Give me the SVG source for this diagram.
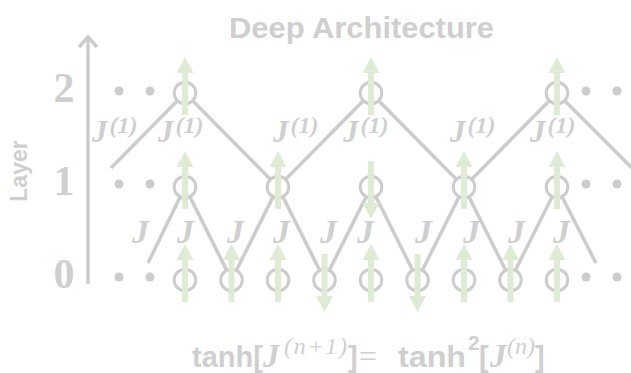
<svg xmlns="http://www.w3.org/2000/svg" xmlns:xlink="http://www.w3.org/1999/xlink" width="631" height="373" viewBox="0 0 631 373">
<style>
.ln{fill:none;stroke:#cccccc;stroke-width:3.5;stroke-linejoin:miter}
.nd{fill:#ffffff;stroke:#cccccc;stroke-width:3}
.dot{fill:#cccccc}
.sp{fill:#dfebd5}
.sans{font-family:"Liberation Sans",Arial,sans-serif;font-weight:bold;fill:#cfcfcf}
.num{font-family:"Liberation Serif","Times New Roman",serif;font-weight:bold;fill:#cfcfcf;font-size:42px;text-anchor:middle}
.jj{font-family:"Liberation Serif","Times New Roman",serif;font-weight:bold;font-style:italic;fill:#cfcfcf}
.mi{font-family:"Liberation Serif","Times New Roman",serif;font-style:italic;fill:#cfcfcf}
.rm{font-family:"Liberation Serif","Times New Roman",serif;fill:#cfcfcf}
</style>
<defs>
<path id="up" d="M-3,22 L-3,-20 L-8.5,-20 L0,-36 L8.5,-20 L3,-20 L3,22 Z"/>
</defs>
<text class="sans" x="229" y="38" font-size="30" textLength="265" lengthAdjust="spacingAndGlyphs">Deep Architecture</text>
<g id="axis">
<line class="ln" x1="88" y1="38" x2="88" y2="284"/>
<polyline class="ln" points="79,47 88,37 97,47"/>
<text class="sans" font-size="23" transform="translate(27,171) rotate(-90)" text-anchor="middle">Layer</text>
<text class="num" x="64" y="102">2</text>
<text class="num" x="64" y="195">1</text>
<text class="num" x="64" y="288">0</text>
</g>
<g id="dots">
<circle class="dot" cx="119" cy="91" r="4.5"/><circle class="dot" cx="150" cy="91" r="4.5"/>
<circle class="dot" cx="119" cy="184" r="4.5"/><circle class="dot" cx="150" cy="184" r="4.5"/>
<circle class="dot" cx="119" cy="277" r="4.5"/><circle class="dot" cx="150" cy="277" r="4.5"/>
<circle class="dot" cx="586" cy="91" r="4.5"/><circle class="dot" cx="617" cy="91" r="4.5"/>
<circle class="dot" cx="586" cy="184" r="4.5"/><circle class="dot" cx="617" cy="184" r="4.5"/>
<circle class="dot" cx="586" cy="277" r="4.5"/><circle class="dot" cx="617" cy="277" r="4.5"/>
</g>
<g id="connectors">
<polyline class="ln" points="111,168 185,93 278,187 371,93 464,187 557,93 633,169"/>
<polyline class="ln" points="148,263 185,187 231.5,280 278,187 324.5,280 371,187 417.5,280 464,187 510.5,280 557,187 596,263"/>
</g>
<g id="labels">
<text class="jj" x="92" y="142" font-size="31">J<tspan font-size="24" dx="2" dy="-9">(1)</tspan></text>
<text class="jj" x="158" y="142" font-size="31">J<tspan font-size="24" dx="2" dy="-9">(1)</tspan></text>
<text class="jj" x="273" y="142" font-size="31">J<tspan font-size="24" dx="2" dy="-9">(1)</tspan></text>
<text class="jj" x="343" y="142" font-size="31">J<tspan font-size="24" dx="2" dy="-9">(1)</tspan></text>
<text class="jj" x="450" y="142" font-size="31">J<tspan font-size="24" dx="2" dy="-9">(1)</tspan></text>
<text class="jj" x="530" y="142" font-size="31">J<tspan font-size="24" dx="2" dy="-9">(1)</tspan></text>
<text class="jj" x="132" y="243" font-size="34">J</text>
<text class="jj" x="177" y="243" font-size="34">J</text>
<text class="jj" x="227" y="243" font-size="34">J</text>
<text class="jj" x="273" y="243" font-size="34">J</text>
<text class="jj" x="320" y="243" font-size="34">J</text>
<text class="jj" x="357" y="243" font-size="34">J</text>
<text class="jj" x="415" y="243" font-size="34">J</text>
<text class="jj" x="463" y="243" font-size="34">J</text>
<text class="jj" x="508" y="243" font-size="34">J</text>
<text class="jj" x="553" y="243" font-size="34">J</text>
</g>
<g id="layer2">
<circle class="nd" cx="185" cy="93" r="10.8"/><circle class="nd" cx="371" cy="93" r="10.8"/><circle class="nd" cx="557" cy="93" r="10.8"/>
</g>
<g id="layer1">
<circle class="nd" cx="185" cy="187" r="10.8"/><circle class="nd" cx="278" cy="187" r="10.8"/><circle class="nd" cx="371" cy="187" r="10.8"/><circle class="nd" cx="464" cy="187" r="10.8"/><circle class="nd" cx="557" cy="187" r="10.8"/>
</g>
<g id="layer0">
<circle class="nd" cx="185" cy="280" r="10.8"/><circle class="nd" cx="231.5" cy="280" r="10.8"/><circle class="nd" cx="278" cy="280" r="10.8"/><circle class="nd" cx="324.5" cy="280" r="10.8"/><circle class="nd" cx="371" cy="280" r="10.8"/><circle class="nd" cx="417.5" cy="280" r="10.8"/><circle class="nd" cx="464" cy="280" r="10.8"/><circle class="nd" cx="510.5" cy="280" r="10.8"/><circle class="nd" cx="557" cy="280" r="10.8"/>
</g>
<g id="spins">
<use class="sp" xlink:href="#up" transform="translate(185,93)"/>
<use class="sp" xlink:href="#up" transform="translate(371,93)"/>
<use class="sp" xlink:href="#up" transform="translate(557,93)"/>
<use class="sp" xlink:href="#up" transform="translate(185,187)"/>
<use class="sp" xlink:href="#up" transform="translate(278,187)"/>
<use class="sp" xlink:href="#up" transform="translate(371,183) rotate(180)"/>
<use class="sp" xlink:href="#up" transform="translate(464,187)"/>
<use class="sp" xlink:href="#up" transform="translate(557,187)"/>
<use class="sp" xlink:href="#up" transform="translate(185,280)"/>
<use class="sp" xlink:href="#up" transform="translate(231.5,280)"/>
<use class="sp" xlink:href="#up" transform="translate(278,280)"/>
<use class="sp" xlink:href="#up" transform="translate(324.5,276) rotate(180)"/>
<use class="sp" xlink:href="#up" transform="translate(371,280)"/>
<use class="sp" xlink:href="#up" transform="translate(417.5,276) rotate(180)"/>
<use class="sp" xlink:href="#up" transform="translate(464,280)"/>
<use class="sp" xlink:href="#up" transform="translate(510.5,280)"/>
<use class="sp" xlink:href="#up" transform="translate(557,280)"/>
</g>
<text id="formula" y="367"><tspan class="sans" x="192" font-size="29">tanh[</tspan><tspan class="mi" x="263" font-size="33" font-weight="bold">J</tspan><tspan class="mi" x="284" y="354" font-size="24" textLength="63" lengthAdjust="spacing">(n+1)</tspan><tspan class="sans" x="348" y="367" font-size="29">]</tspan><tspan class="rm" x="359" font-size="32">=</tspan><tspan class="sans" x="398" font-size="29" textLength="68" lengthAdjust="spacingAndGlyphs">tanh</tspan><tspan class="sans" x="468" y="350" font-size="21">2</tspan><tspan class="sans" x="479" y="367" font-size="29">[</tspan><tspan class="mi" x="490" font-size="33" font-weight="bold">J</tspan><tspan class="mi" x="507" y="354" font-size="24">(n)</tspan><tspan class="sans" x="535" y="367" font-size="29">]</tspan></text>
</svg>
